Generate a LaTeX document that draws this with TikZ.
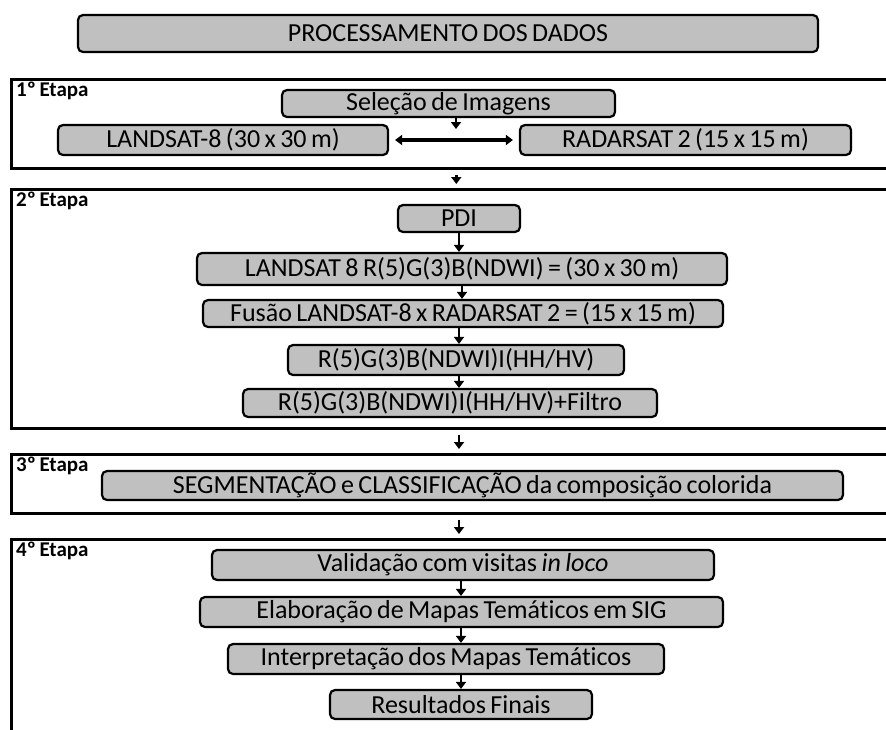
\documentclass[tikz,border=0pt]{standalone}
\usepackage{fontspec}
\setmainfont{Carlito}[Ligatures=NoCommon, WordSpace=0.75]
\usetikzlibrary{arrows.meta,positioning}
\definecolor{cinza}{RGB}{192,192,192}
\tikzset{
  caixa/.style={draw, line width=2.2pt, rounded corners=5pt, fill=cinza,
    inner sep=0pt, font=\fontsize{26}{28}\selectfont},
  etapa/.style={draw, line width=2.6pt, inner sep=0pt, anchor=north west},
  rotulo/.style={font=\bfseries\fontsize{21}{23}\selectfont, inner sep=0pt},
  seta/.style={-{Triangle[width=10pt,length=7pt]}, line width=2.8pt},
  entre/.style={seta, shorten <=5pt, shorten >=4pt},
}
\begin{document}
\begin{tikzpicture}[x=1pt, y=-1pt]
  \useasboundingbox (0,0) rectangle (886,729);

  \newcommand\AH{30pt}

  %% titulo
  \node[caixa, minimum width=740pt, minimum height=37pt] (titulo) at (448,33.5) {PROCESSAMENTO DOS DADOS};

  %% quadros das etapas
  \node[etapa, minimum width=890pt, minimum height=89pt] (etA) at (10,78) {};
  \node[etapa, minimum width=890pt, minimum height=239pt] (etB) at (10,188) {};
  \node[etapa, minimum width=890pt, minimum height=59pt] (etC) at (10,453) {};
  \node[etapa, minimum width=890pt, minimum height=230pt] (etD) at (10,538) {};

  \node[rotulo, below right=4pt and 6pt of etA.north west] (labA) {1º Etapa};
  \node[rotulo, below right=4pt and 6pt of etB.north west] (labB) {2º Etapa};
  \node[rotulo, below right=4pt and 6pt of etC.north west] (labC) {3º Etapa};
  \node[rotulo, below right=4pt and 6pt of etD.north west] (labD) {4º Etapa};

  %% 1a etapa
  \node[caixa, minimum width=333pt, minimum height=27pt] (selecao) at (448.5,103.5) {Seleção de Imagens};
  \node[caixa, minimum width=330pt, minimum height=\AH] (landsat) at (223,140) {LANDSAT-8 (30 x 30 m)};
  \node[caixa, minimum width=331pt, minimum height=\AH] (radarsat) at (685.5,140) {RADARSAT 2 (15 x 15 m)};
  \coordinate (meio) at (456,129);

  \draw[seta] (selecao.south -| meio) -- (meio);
  \draw[{Triangle[width=10pt,length=7pt]}-{Triangle[width=10pt,length=7pt]}, line width=3.5pt, shorten <=6pt, shorten >=6pt] (landsat.east) -- (radarsat.west);

  %% 2a etapa
  \node[caixa, minimum width=122pt, minimum height=27pt] (pdi) at (459,218.5) {PDI};
  \node[caixa, minimum width=530pt, minimum height=32pt] (rgb) at (462,269) {LANDSAT 8 R(5)G(3)B(NDWI) = (30 x 30 m)};
  \node[caixa, minimum width=520pt, minimum height=27pt] (fusao) at (463,313.5) {Fusão LANDSAT-8 x RADARSAT 2 = (15 x 15 m)};
  \node[caixa, minimum width=336pt, minimum height=\AH] (rgbi) at (456,360) {R(5)G(3)B(NDWI)I(HH/HV)};
  \node[caixa, minimum width=414pt, minimum height=28pt] (filtro) at (450,403) {R(5)G(3)B(NDWI)I(HH/HV)+Filtro};

  \draw[seta] (pdi.south) -- (pdi.south |- rgb.north);
  \draw[seta] (rgb.south) -- (rgb.south |- fusao.north);
  \draw[seta] (fusao.south -| pdi) -- (pdi |- rgbi.north);
  \draw[seta] (rgbi.south -| pdi) -- (pdi |- filtro.north);

  %% 3a etapa
  \node[caixa, minimum width=741pt, minimum height=29pt] (segm) at (472.5,485.5) {SEGMENTAÇÃO e CLASSIFICAÇÃO da composição colorida};

  %% 4a etapa
  \node[caixa, minimum width=502pt, minimum height=\AH] (valid) at (463,565) {Validação com visitas \textit{in loco}};
  \node[caixa, minimum width=523pt, minimum height=\AH] (mapas) at (461.5,612) {Elaboração de Mapas Temáticos em SIG};
  \node[caixa, minimum width=436pt, minimum height=\AH] (interp) at (446,659) {Interpretação dos Mapas Temáticos};
  \node[caixa, minimum width=262pt, minimum height=29pt] (result) at (461,704.5) {Resultados Finais};

  \draw[seta] (valid.south -| result) -- (result |- mapas.north);
  \draw[seta] (mapas.south -| result) -- (result |- interp.north);
  \draw[seta] (interp.south -| result) -- (result.north);

  %% entre etapas
  \draw[entre] (etA.south) -- (etA.south |- etB.north);
  \draw[entre] (etB.south -| pdi) -- (pdi |- etC.north);
  \draw[entre] (etC.south -| pdi) -- (pdi |- etD.north);
\end{tikzpicture}
\end{document}
